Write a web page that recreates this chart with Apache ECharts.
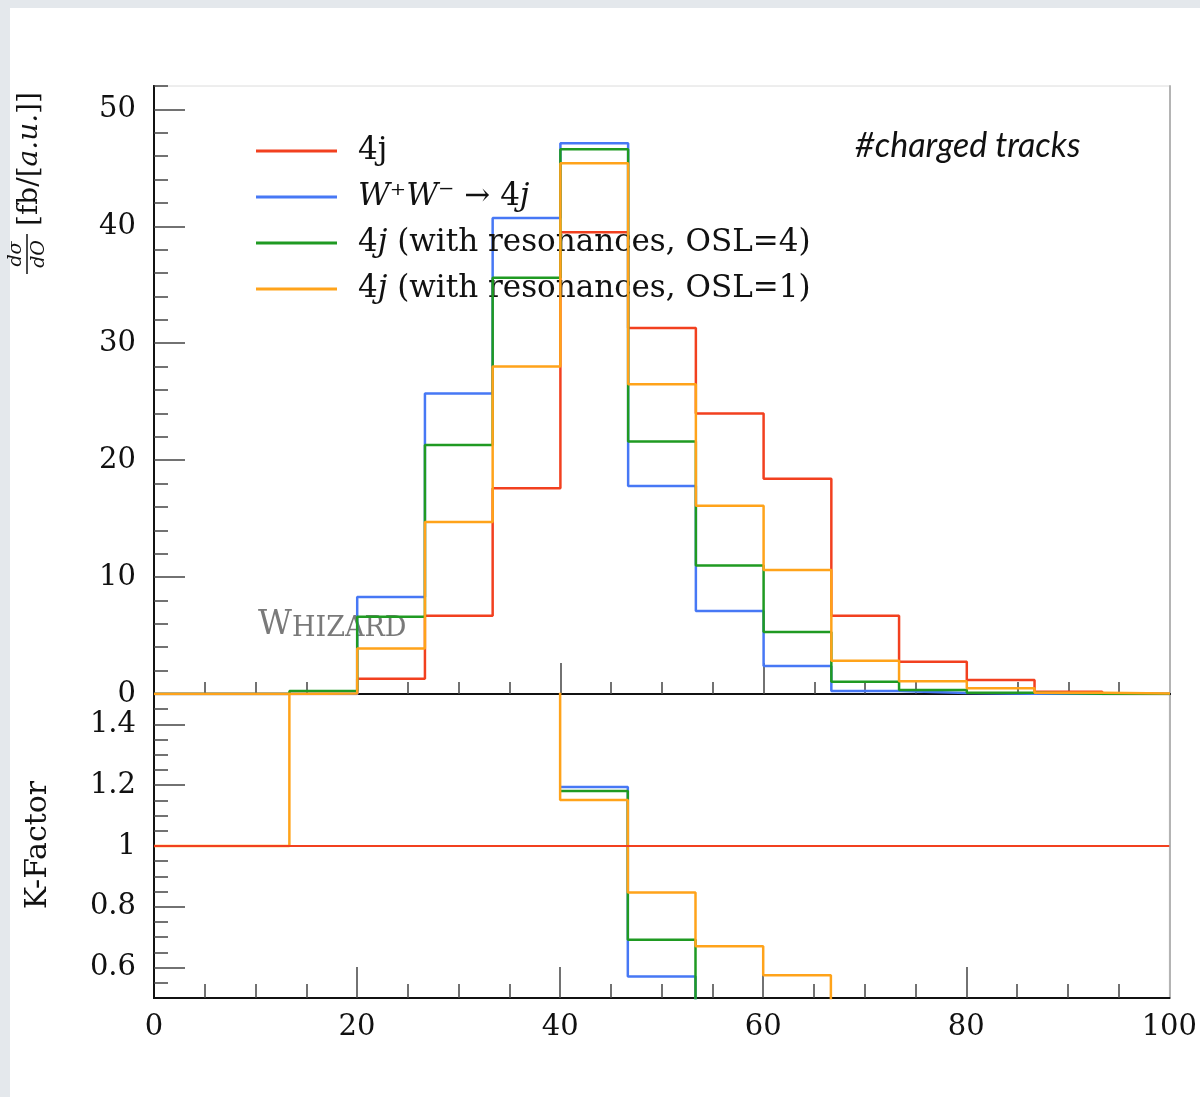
<!DOCTYPE html>
<html>
<head>
<meta charset="utf-8">
<script src="https://cdn.jsdelivr.net/npm/echarts@6/dist/echarts.min.js"></script>
<style>
	html,body{margin:0;padding:0;width:1200px;height:1097px;background:#e4e8ec;overflow:hidden;}
	.sheet{position:absolute;left:10px;top:8px;right:0;bottom:0;background:#fff;}
	#main{position:absolute;left:0;top:0;width:1200px;height:1097px;}
</style>
</head>
<body>
<div class="sheet"></div>
<div id="main"></div>

<script type="text/javascript">
	//bin edges of the histogram (#charged tracks)
	var edges = [0, 6.667, 13.333, 20, 26.667, 33.333, 40, 46.667, 53.333, 60, 66.667, 73.333, 80, 86.667, 93.333, 100];

	//dsigma/dO per bin
	var red4j    = [0, 0, 0, 1.3, 6.7, 17.6, 39.5, 31.3, 24.0, 18.4, 6.7, 2.75, 1.2, 0.2, 0];
	var blueWW   = [0, 0, 0, 8.3, 25.7, 40.7, 47.1, 17.8, 7.1, 2.4, 0.25, 0.08, 0.03, 0.01, 0];
	var greenOsl4 = [0, 0, 0.25, 6.6, 21.3, 35.6, 46.6, 21.6, 11.0, 5.3, 1.05, 0.34, 0.11, 0.03, 0];
	var orangeOsl1 = [0, 0, 0.05, 3.9, 14.7, 28.0, 45.4, 26.5, 16.1, 10.6, 2.85, 1.1, 0.49, 0.1, 0.05];

	//K-factor per bin (null = not drawn, values outside 0.5..1.5 run off the panel)
	var kRed    = [1, 1, 1, 1, 1, 1, 1, 1, 1, 1, 1, 1, 1, 1, 1];
	var kBlue   = [null, null, null, null, null, null, 1.194, 0.571, 0.3, 0.3, 0.3, 0.3, 0.3, 0.3, 0.3];
	var kGreen  = [null, null, null, null, null, null, 1.181, 0.692, 0.3, 0.3, 0.3, 0.3, 0.3, 0.3, 0.3];
	var kOrange = [1, 1, 2, 2, 2, 2, 1.151, 0.847, 0.670, 0.575, 0.3, 0.3, 0.3, 0.3, 0.3];

	//ticks and labels
	var xMinorTicks = [5, 10, 15, 20, 25, 30, 35, 40, 45, 50, 55, 60, 65, 70, 75, 80, 85, 90, 95];
	var xMajorTicks = [20, 40, 60, 80];
	var xLabels = [0, 20, 40, 60, 80, 100];
	var yTopMinor = [2, 4, 6, 8, 12, 14, 16, 18, 22, 24, 26, 28, 32, 34, 36, 38, 42, 44, 46, 48, 52];
	var yTopMajor = [10, 20, 30, 40, 50];
	var yTopLabels = [0, 10, 20, 30, 40, 50];
	var yBotMinor = [0.55, 0.6, 0.65, 0.7, 0.75, 0.8, 0.85, 0.9, 0.95, 1, 1.05, 1.1, 1.15, 1.2, 1.25, 1.3, 1.35, 1.4, 1.45];
	var yBotMajor = [0.6, 0.8, 1, 1.2, 1.4];

	var names = ["4j", "W⁺W⁻ → 4j", "4j (with resonances, OSL=4)", "4j (with resonances, OSL=1)"];
	var legendRich = {
		"4j": "4j",
		"W⁺W⁻ → 4j": "{i|W}⁺{i|W}⁻ → 4{i|j}",
		"4j (with resonances, OSL=4)": "4{i|j} (with resonances, OSL=4)",
		"4j (with resonances, OSL=1)": "4{i|j} (with resonances, OSL=1)"
	};
	var colors = ["#f2401f", "#4778f5", "#1f9a22", "#ffa31a"];

	var serif = "DejaVu Serif";
	var ink = "#111";

	//histogram -> step polyline
	function fn_steps(vals){
		var pts = [];
		vals.forEach(function(v, i){
			if(v === null) return;
			pts.push([edges[i], v]);
			pts.push([edges[i + 1], v]);
		});
		return pts;
	}

	function fn_xAxis(grid, ticks, len, labels){
		return {
			type:'value', gridIndex:grid, position:'bottom', min:0, max:100,
			axisLine:{show:true, lineStyle:{color:ink, width:2}},
			axisTick:{show:true, inside:true, length:len, customValues:ticks, lineStyle:{color:'#444', width:1.5}},
			axisLabel:labels ? {show:true, customValues:labels, margin:15, color:ink, fontFamily:serif, fontSize:29} : {show:false},
			splitLine:{show:false}
		};
	}

	function fn_yAxis(grid, min, max, ticks, len, labels){
		return {
			type:'value', gridIndex:grid, position:'left', min:min, max:max,
			axisLine:{show:true, lineStyle:{color:ink, width:2}},
			axisTick:{show:true, inside:true, length:len, customValues:ticks, lineStyle:{color:'#444', width:1.5}},
			axisLabel:labels ? {show:true, customValues:labels, margin:18, color:ink, fontFamily:serif, fontSize:29} : {show:false},
			splitLine:{show:false}
		};
	}

	function fn_frame(grid, min, max){
		return {
			type:'value', gridIndex:grid, position:'right', min:min, max:max,
			axisLine:{show:true, lineStyle:{color:'#b4b4b4', width:2}},
			axisTick:{show:false}, axisLabel:{show:false}, splitLine:{show:false}
		};
	}

	var series = [];
	[red4j, blueWW, greenOsl4, orangeOsl1].forEach(function(vals, i){
		series.push({
			name:names[i], type:'line', xAxisIndex:0, yAxisIndex:0,
			data:fn_steps(vals), symbol:'none', z:2 + i,
			lineStyle:{color:colors[i], width:2.5}, itemStyle:{color:colors[i]}
		});
	});
	//ratio panel: blue at the bottom, red drawn last
	[[kBlue, 1], [kGreen, 2], [kOrange, 3], [kRed, 0]].forEach(function(el, j){
		series.push({
			name:names[el[1]], type:'line', xAxisIndex:2, yAxisIndex:3,
			data:fn_steps(el[0]), symbol:'none', z:2 + j,
			lineStyle:{color:colors[el[1]], width:el[1] === 0 ? 2 : 2.5}, itemStyle:{color:colors[el[1]]}
		});
	});

	var myChart = echarts.init(document.getElementById("main"), null, {renderer:'canvas'});

	var option = {
		animation:false,
		grid:[
			{left:154, top:86, width:1016, height:608, show:true, borderColor:'#dcdcdc', borderWidth:1},
			{left:154, top:694, width:1016, height:304, show:true, borderColor:'#dcdcdc', borderWidth:1}
		],
		xAxis:[
			fn_xAxis(0, xMinorTicks, 12, null),
			fn_xAxis(0, xMajorTicks, 31, null),
			fn_xAxis(1, xMinorTicks, 14, null),
			fn_xAxis(1, xMajorTicks, 31, xLabels)
		],
		yAxis:[
			fn_yAxis(0, 0, 52, yTopMinor, 14, null),
			fn_yAxis(0, 0, 52, yTopMajor, 31, yTopLabels),
			fn_frame(0, 0, 52),
			fn_yAxis(1, 0.5, 1.5, yBotMinor, 14, null),
			fn_yAxis(1, 0.5, 1.5, yBotMajor, 31, yBotMajor),
			fn_frame(1, 0.5, 1.5)
		],
		legend:{
			data:names, orient:'vertical', left:256, top:131, padding:0,
			itemWidth:81, itemHeight:3, itemGap:6, icon:'rect', selectedMode:false,
			formatter:function(name){ return legendRich[name]; },
			textStyle:{
				color:ink, fontFamily:serif, fontSize:31, lineHeight:40, padding:[0, 0, 0, 16],
				rich:{i:{fontFamily:serif, fontSize:31, fontStyle:'italic', lineHeight:40, color:ink}}
			}
		},
		graphic:[
			{
				type:'text', x:855, y:146,
				style:{text:'#charged tracks', fontFamily:'Lato', fontStyle:'italic', fontSize:34, fill:ink, verticalAlign:'middle'}
			},
			{
				type:'text', x:258, y:642,
				style:{
					text:'{a|W}{b|HIZARD}', fill:'#7a7a7a', verticalAlign:'bottom',
					rich:{
						a:{fontFamily:serif, fontSize:33, color:'#7a7a7a', verticalAlign:'bottom'},
						b:{fontFamily:serif, fontSize:27, color:'#7a7a7a', verticalAlign:'bottom'}
					}
				}
			},
			{
				type:'text', x:38, y:845, rotation:Math.PI / 2,
				style:{text:'K-Factor', fontFamily:serif, fontSize:30, fill:ink, align:'center', verticalAlign:'middle'}
			},
			{
				type:'group', x:27, y:254, rotation:Math.PI / 2,
				children:[
					{type:'line', shape:{x1:-20, y1:0, x2:20, y2:0}, style:{stroke:ink, lineWidth:1.5}},
					{type:'text', x:0, y:-11, style:{text:'dσ', fontFamily:serif, fontStyle:'italic', fontSize:19, fill:ink, align:'center', verticalAlign:'middle'}},
					{type:'text', x:0, y:12, style:{text:'dO', fontFamily:serif, fontStyle:'italic', fontSize:19, fill:ink, align:'center', verticalAlign:'middle'}},
					{
						type:'text', x:28, y:3,
						style:{
							text:'[fb/[{i|a.u.}]]', fontFamily:serif, fontSize:28, fill:ink, align:'left', verticalAlign:'middle',
							rich:{i:{fontFamily:serif, fontSize:28, fontStyle:'italic', color:ink}}
						}
					}
				]
			}
		],
		series:series
	};

	myChart.setOption(option);
</script>
</body>
</html>
